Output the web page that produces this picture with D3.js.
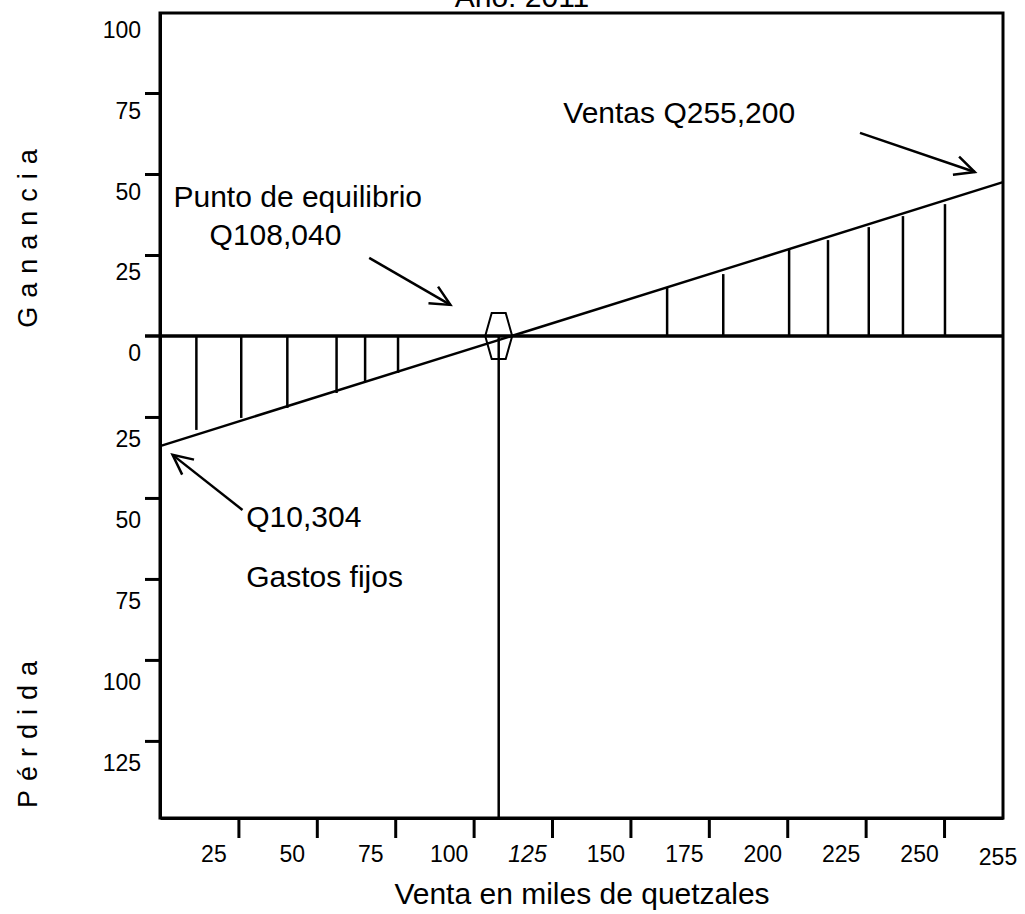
<!DOCTYPE html>
<html>
<head>
<meta charset="utf-8">
<script src="https://cdn.jsdelivr.net/npm/d3@7"></script>
<style>
  body { margin: 0; background: #fff; }
  svg { display: block; font-family: "Liberation Sans", Arial, sans-serif; }
</style>
</head>
<body>
<svg id="chart" width="1025" height="914"></svg>
<script>
// ---- data ----
var xTicks = [25, 50, 75, 100, 125, 150, 175, 200, 225, 250];
var xEndLabel = "255";
var xMax = 268.8;
var yTicks = [100, 75, 50, 25, 0, -25, -50, -75, -100, -125];

// profit / loss line (ends of the plot)
var lineX = [0, 268.8];
var lineY = [-34.0, 47.5];

var breakEvenX = 108;

// vertical hatching
var lossHatchX = [11.6, 25.9, 40.6, 56.3, 65.4, 75.9];
var lossHatchY = [-29.0, -25.3, -22.2, -17.6, -14.2, -11.4];
var gainHatchX = [161.7, 179.6, 200.6, 213.0, 226.0, 236.9, 250.3];
var gainHatchY = [14.8, 19.1, 26.9, 29.6, 33.6, 37.0, 40.7];

// annotations: text, x, y (data units, baseline start)
var noteText = ["Ventas Q255,200", "Punto de equilibrio", "Q108,040", "Q10,304", "Gastos fijos"];
var noteX = [128.6, 4.3, 15.8, 27.5, 27.5];
var noteY = [65.7, 39.8, 28.1, -59.0, -77.5];

// arrows: tail -> tip (data units)
var arrowFromX = [223.2, 66.7, 26.3];
var arrowFromY = [62.7, 24.1, -53.7];
var arrowToX = [259.8, 92.6, 4.0];
var arrowToY = [50.6, 9.6, -36.7];

var svg = d3.select("#chart");

var x = d3.scaleLinear().domain([0, xMax]).range([160, 1003]);
var y = d3.scaleLinear().domain([-148.8, 99.7]).range([818, 13]);

// title (cut at the top edge, as in the original)
svg.append("text")
    .attr("x", 522).attr("y", 7)
    .attr("text-anchor", "middle")
    .attr("font-size", 30)
    .text("Año: 2011");

// frame
svg.append("rect")
    .attr("x", x(0)).attr("y", y.range()[1])
    .attr("width", x(xMax) - x(0))
    .attr("height", y.range()[0] - y.range()[1])
    .attr("fill", "none")
    .attr("stroke", "#000")
    .attr("stroke-width", 3);

// y axis
var yAxis = d3.axisLeft(y)
    .tickValues(yTicks)
    .tickSize(15)
    .tickSizeOuter(0)
    .tickPadding(4)
    .tickFormat(function(d){ return Math.abs(d); });

var gy = svg.append("g")
    .attr("transform", "translate(" + x(0) + ",0)")
    .call(yAxis);
gy.select(".domain").attr("stroke-width", 3);
gy.selectAll(".tick line")
    .attr("stroke-width", 3)
    .attr("display", function(d){ return (d === 100 || d === 0) ? "none" : null; });
gy.selectAll(".tick text")
    .attr("font-size", 23)
    .attr("font-family", "Liberation Sans, Arial, sans-serif")
    .attr("dy", function(d){ return d >= 0 ? 25 : 30; });

// x axis
var xAxis = d3.axisBottom(x)
    .tickValues(xTicks)
    .tickSize(20)
    .tickSizeOuter(0)
    .tickPadding(8)
    .tickFormat(d3.format("d"));

var gx = svg.append("g")
    .attr("transform", "translate(0," + y.range()[0] + ")")
    .call(xAxis);
gx.select(".domain").attr("stroke-width", 3);
gx.selectAll(".tick line").attr("stroke-width", 3);
gx.selectAll(".tick text")
    .attr("font-size", 23)
    .attr("font-family", "Liberation Sans, Arial, sans-serif")
    .attr("dx", -25)
    .attr("font-style", function(d){ return d === 125 ? "italic" : null; });

svg.append("text")
    .attr("x", x(xMax) - 5).attr("y", y.range()[0] + 47)
    .attr("text-anchor", "middle")
    .attr("font-size", 23)
    .text(xEndLabel);

// axis titles
svg.append("text")
    .attr("x", 582).attr("y", 904)
    .attr("text-anchor", "middle")
    .attr("font-size", 30)
    .text("Venta en miles de quetzales");

svg.append("text")
    .attr("transform", "translate(37,234) rotate(-90)")
    .attr("text-anchor", "middle")
    .attr("font-size", 27)
    .attr("letter-spacing", 9)
    .text("Ganancia");

svg.append("text")
    .attr("transform", "translate(37,730) rotate(-90)")
    .attr("text-anchor", "middle")
    .attr("font-size", 27)
    .attr("letter-spacing", 9)
    .text("Pérdida");

// zero line
svg.append("line")
    .attr("x1", x(0) - 15).attr("x2", x(xMax))
    .attr("y1", y(0)).attr("y2", y(0))
    .attr("stroke", "#000")
    .attr("stroke-width", 3.5);

// hatching
var loss = lossHatchX.map(function(d, i){ return {x: d, y: lossHatchY[i]}; });
var gain = gainHatchX.map(function(d, i){ return {x: d, y: gainHatchY[i]}; });

svg.selectAll(".hatch")
    .data(loss.concat(gain))
    .enter()
    .append("line")
    .attr("class", "hatch")
    .attr("x1", d => x(d.x)).attr("x2", d => x(d.x))
    .attr("y1", y(0)).attr("y2", d => y(d.y))
    .attr("stroke", "#000")
    .attr("stroke-width", 2.5);

// break-even vertical line
svg.append("line")
    .attr("x1", x(breakEvenX)).attr("x2", x(breakEvenX))
    .attr("y1", y(0)).attr("y2", y.range()[0])
    .attr("stroke", "#000")
    .attr("stroke-width", 2.5);

// profit line
var line = d3.line().x(d => x(d.x)).y(d => y(d.y));
svg.append("path")
    .attr("d", line(lineX.map(function(d, i){ return {x: d, y: lineY[i]}; })))
    .attr("fill", "none")
    .attr("stroke", "#000")
    .attr("stroke-width", 2.5);

// hexagon marker at break-even
var cx = x(breakEvenX), cy = y(0);
var hex = [[-7, -23], [7, -23], [13.5, 0], [7, 23], [-7, 23], [-13.5, 0]];
svg.append("path")
    .attr("d", "M" + hex.map(p => (cx + p[0]) + "," + (cy + p[1])).join("L") + "Z")
    .attr("fill", "none")
    .attr("stroke", "#000")
    .attr("stroke-width", 2);

// annotations
svg.selectAll(".note")
    .data(noteText)
    .enter()
    .append("text")
    .attr("class", "note")
    .attr("x", (d, i) => x(noteX[i]))
    .attr("y", (d, i) => y(noteY[i]))
    .attr("font-size", 30)
    .text(d => d);

// arrows
arrowFromX.forEach(function(fx, i){
    var x1 = x(fx), y1 = y(arrowFromY[i]);
    var x2 = x(arrowToX[i]), y2 = y(arrowToY[i]);
    var ang = Math.atan2(y2 - y1, x2 - x1);
    var len = 22, spread = 0.45;
    var g = svg.append("g")
        .attr("stroke", "#000")
        .attr("stroke-width", 2.5)
        .attr("fill", "none");
    g.append("line").attr("x1", x1).attr("y1", y1).attr("x2", x2).attr("y2", y2);
    g.append("path")
        .attr("d", "M" + (x2 - len * Math.cos(ang - spread)) + "," + (y2 - len * Math.sin(ang - spread)) +
                   "L" + x2 + "," + y2 +
                   "L" + (x2 - len * Math.cos(ang + spread)) + "," + (y2 - len * Math.sin(ang + spread)));
});
</script>
</body>
</html>
